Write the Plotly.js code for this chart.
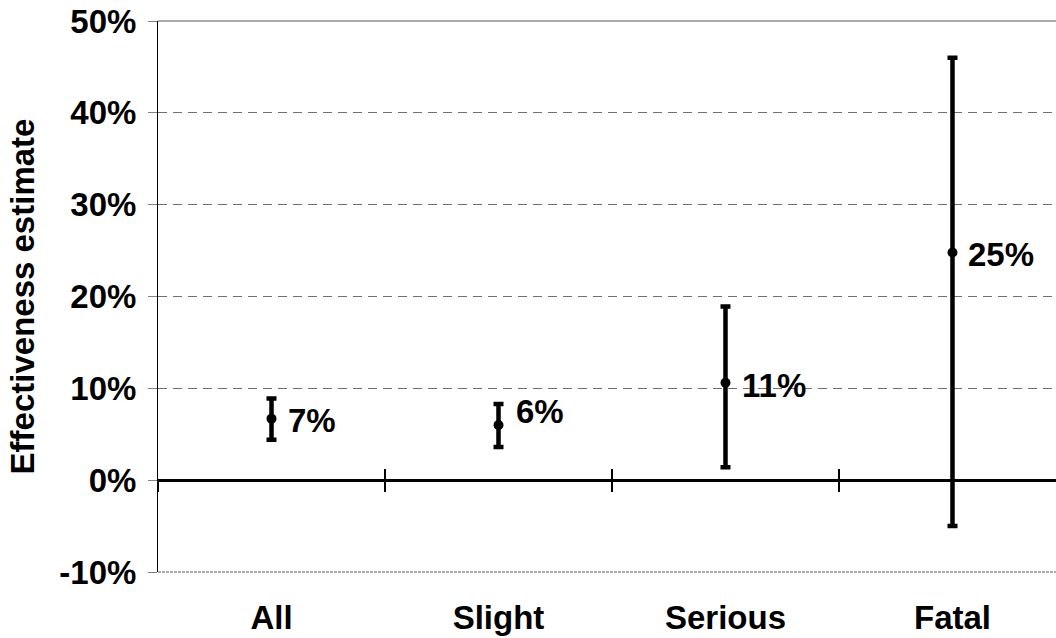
<!DOCTYPE html>
<html>
<head>
<meta charset="utf-8">
<script src="https://cdn.plot.ly/plotly-3.0.1.min.js"></script>
<style>html,body{margin:0;padding:0;background:#fff;}#chart{width:1056px;height:638px;}</style>
</head>
<body>
<div id="chart"></div>
<script>
// Data
var categories = ["All", "Slight", "Serious", "Fatal"];
var estimates = [6.7, 6.0, 10.6, 24.8];      // effectiveness estimate (%)
var upperCI   = [8.9, 8.3, 18.9, 46.0];      // upper bound (%)
var lowerCI   = [4.4, 3.6, 1.4, -5.0];       // lower bound (%)
var pointLabels = ["7%", "6%", "11%", "25%"];
var yTickVals = [-10, 0, 10, 20, 30, 40, 50];
var yTickText = ["-10%", "0%", "10%", "20%", "30%", "40%", "50%"];

// label offsets (style only)
var labelDx = [14, 15, 15, 14];
var labelDy = [-2, 14, -3, -2];

var FONT = "Liberation Sans, Arial, Helvetica, sans-serif";
var FS = 33;

var xIdx = categories.map(function(_, i){ return i; });

var trace = {
  type: "scatter",
  mode: "markers",
  x: xIdx,
  y: estimates,
  marker: {color: "#000", size: 10, symbol: "circle"},
  error_y: {
    type: "data",
    symmetric: false,
    array: upperCI.map(function(u, i){ return u - estimates[i]; }),
    arrayminus: lowerCI.map(function(l, i){ return estimates[i] - l; }),
    color: "#000",
    thickness: 4.5,
    width: 5
  },
  hoverinfo: "skip",
  showlegend: false
};

var boundaries = [-0.5, 0.5, 1.5, 2.5];
var xr = [-0.5, 3.456];

var annotations = pointLabels.map(function(t, i){
  return {
    x: xIdx[i], y: estimates[i], xref: "x", yref: "y",
    text: t, showarrow: false, xanchor: "left", yanchor: "middle",
    xshift: labelDx[i], yshift: labelDy[i],
    font: {family: FONT, size: FS, color: "#000", weight: "bold"}
  };
});

var layout = {
  width: 1056, height: 638,
  margin: {l: 158, r: 0, t: 21, b: 66},
  paper_bgcolor: "#fff", plot_bgcolor: "#fff",
  font: {family: FONT, color: "#000"},
  showlegend: false,
  xaxis: {
    range: xr, fixedrange: true,
    tickmode: "array", tickvals: xIdx, ticktext: categories,
    ticks: "", showgrid: false, zeroline: false, showline: false,
    tickfont: {family: FONT, size: FS, color: "#000", weight: "bold"},
    ticklabelstandoff: 23
  },
  xaxis2: {
    overlaying: "x", matches: "x", range: xr, anchor: "free", position: 1/6,
    tickmode: "array", tickvals: boundaries, ticks: "outside", ticklen: 11, tickwidth: 2, tickcolor: "#000",
    showticklabels: false, showgrid: false, zeroline: false, showline: false
  },
  xaxis3: {
    overlaying: "x", matches: "x", range: xr, anchor: "free", position: 1/6,
    tickmode: "array", tickvals: boundaries, ticks: "inside", ticklen: 11, tickwidth: 2, tickcolor: "#000",
    showticklabels: false, showgrid: false, zeroline: false, showline: false
  },
  yaxis: {
    range: [-10, 50], fixedrange: true,
    tickmode: "array", tickvals: yTickVals, ticktext: yTickText,
    ticks: "outside", ticklen: 9, tickwidth: 1, tickcolor: "#808080",
    showline: true, linecolor: "#000", linewidth: 1,
    showgrid: true, gridcolor: "#707070", gridwidth: 1, griddash: "9px,6px",
    zeroline: true, zerolinecolor: "#000", zerolinewidth: 3,
    tickfont: {family: FONT, size: FS, color: "#000", weight: "bold"},
    ticklabelstandoff: 5,
    title: {text: "Effectiveness estimate", font: {family: FONT, size: FS, color: "#000", weight: "bold"}, standoff: 14}
  },
  shapes: [
    {type: "line", xref: "paper", yref: "paper", x0: 0, x1: 1, y0: 1, y1: 1, line: {color: "#909090", width: 1.5}},
    {type: "line", xref: "paper", yref: "paper", x0: 0, x1: 1, y0: 0, y1: 0, line: {color: "#909090", width: 1.5, dash: "3px,1px"}}
  ],
  annotations: annotations
};

var dummy2 = {type: "scatter", x: [], y: [], xaxis: "x2", yaxis: "y", hoverinfo: "skip", showlegend: false};
var dummy3 = {type: "scatter", x: [], y: [], xaxis: "x3", yaxis: "y", hoverinfo: "skip", showlegend: false};

Plotly.newPlot("chart", [trace, dummy2, dummy3], layout, {staticPlot: true, displayModeBar: false});
</script>
</body>
</html>
